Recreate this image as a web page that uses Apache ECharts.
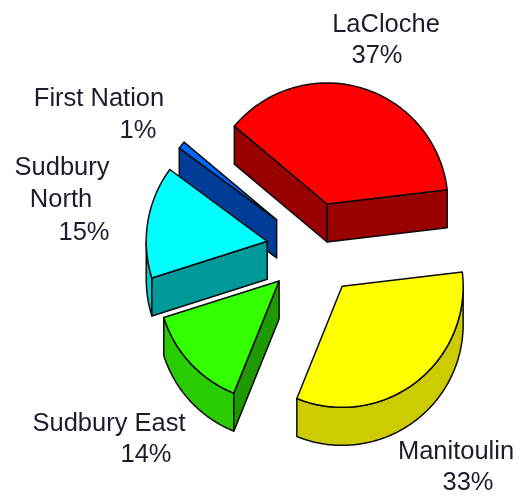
<!DOCTYPE html>
<html lang="en" style="height: 100%">
  <head>
    <meta charset="utf-8" />
    <style>
      body { height: 100%; margin: 0; background: #fff; }
    </style>
  </head>
  <body>
    <div id="container" style="width: 523px; height: 499px"></div>

    <script src="https://cdn.jsdelivr.net/npm/echarts@6/dist/echarts.min.js"></script>
    <script type="text/javascript">
      // data, clockwise from the start angle
      var sliceNames = ["Manitoulin", "Sudbury East", "Sudbury North", "First Nation", "LaCloche"];
      var sliceShares = [33, 14, 15, 1, 37];
      var sliceColors = ["#ffff00", "#33ff00", "#00ffff", "#0066ff", "#ff0000"];

      // back to front
      var drawOrder = [4, 3, 2, 0, 1];

      // label lines are placed by hand, the source chart had odd alignment
      var labelLines = [
        [["Manitoulin", 456, 452], ["33%", 468, 483]],
        [["Sudbury East", 109, 424], ["14%", 146, 455]],
        [["Sudbury", 62, 168], ["North", 61, 200], ["15%", 84, 233]],
        [["First Nation", 99, 99], ["1%", 138, 131]],
        [["LaCloche", 386, 25], ["37%", 377, 56]],
      ];

      var centerX = 313.6;
      var centerY = 249;
      var radius = 121;
      var depth = 38;
      var explode = 47;
      var startAngle = 6.8;

      function shade(hex, f) {
        var n = parseInt(hex.slice(1), 16);
        var r = Math.round(((n >> 16) & 255) * f);
        var g = Math.round(((n >> 8) & 255) * f);
        var b = Math.round((n & 255) * f);
        return "rgb(" + r + "," + g + "," + b + ")";
      }

      var total = sliceShares.reduce(function (a, b) { return a + b; }, 0);
      var angles = [];
      var running = startAngle;
      sliceShares.forEach(function (v) {
        var sweep = (v / total) * 360;
        angles.push([running, running - sweep]);
        running -= sweep;
      });

      function pt(ox, oy, deg, drop) {
        var a = (deg * Math.PI) / 180;
        return [ox + radius * Math.cos(a), oy - radius * Math.sin(a) + (drop || 0)];
      }

      function arcPoints(ox, oy, from, to, drop) {
        var pts = [];
        var steps = Math.max(2, Math.ceil(Math.abs(from - to)));
        for (var i = 0; i <= steps; i++) {
          pts.push(pt(ox, oy, from + ((to - from) * i) / steps, drop));
        }
        return pts;
      }

      function wall(points, fill) {
        return {
          type: "polygon",
          shape: { points: points },
          style: { fill: fill, stroke: "#0a0a0a", lineWidth: 1.5, lineJoin: "round" },
        };
      }

      function straightWall(ox, oy, deg, fill) {
        var p = pt(ox, oy, deg);
        return wall([[ox, oy], p, [p[0], p[1] + depth], [ox, oy + depth]], fill);
      }

      function renderSlice(params, api) {
        var idx = drawOrder[params.dataIndex];
        var from = angles[idx][0];
        var to = angles[idx][1];
        var mid = (((from + to) / 2) * Math.PI) / 180;
        var ox = centerX + explode * Math.cos(mid);
        var oy = centerY - explode * Math.sin(mid);
        var color = sliceColors[idx];
        var children = [];

        // outer wall, only the part between 0 and -180 faces down
        var arcFrom = Math.min(from, 0);
        var arcTo = Math.max(to, -180);
        if (arcFrom > arcTo) {
          var topEdge = arcPoints(ox, oy, arcFrom, arcTo, 0);
          var lowEdge = arcPoints(ox, oy, arcTo, arcFrom, depth);
          children.push(wall(topEdge.concat(lowEdge), shade(color, 0.8)));
        }

        // straight walls facing the viewer
        if (Math.cos((from * Math.PI) / 180) < 0) {
          children.push(straightWall(ox, oy, from, shade(color, 0.6)));
        }
        if (Math.cos((to * Math.PI) / 180) > 0) {
          children.push(straightWall(ox, oy, to, shade(color, 0.6)));
        }

        // top face
        var top = [[ox, oy]].concat(arcPoints(ox, oy, from, to, 0));
        children.push(wall(top, color));

        return { type: "group", children: children };
      }

      function renderLabel(params, api) {
        var idx = drawOrder[params.dataIndex];
        return {
          type: "group",
          children: labelLines[idx].map(function (line) {
            return {
              type: "text",
              x: line[1],
              y: line[2],
              style: {
                text: line[0],
                fill: "#1c1c2c",
                font: '25.5px "Liberation Sans", Arial, sans-serif',
                align: "center",
                verticalAlign: "middle",
              },
            };
          }),
        };
      }

      var dom = document.getElementById("container");
      var myChart = echarts.init(dom, null, { renderer: "canvas" });

      var drawnData = drawOrder.map(function (i) {
        return { name: sliceNames[i], value: sliceShares[i] };
      });

      var option = {
        backgroundColor: "#ffffff",
        animation: false,
        tooltip: { show: false },
        series: [
          { type: "custom", coordinateSystem: "none", renderItem: renderSlice, data: drawnData, z: 1 },
          { type: "custom", coordinateSystem: "none", renderItem: renderLabel, data: drawnData, z: 2 },
        ],
      };

      myChart.setOption(option);
    </script>
  </body>
</html>
